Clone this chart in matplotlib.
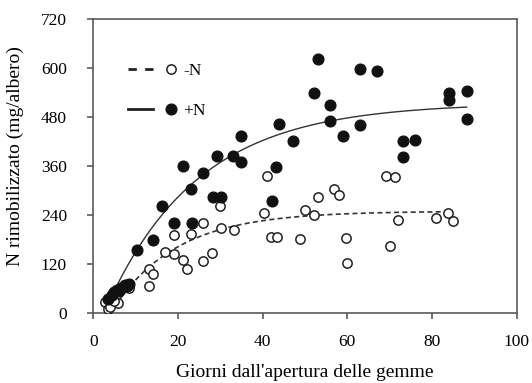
import numpy as np
from matplotlib import pyplot as plt
from matplotlib.lines import Line2D
from matplotlib.legend_handler import HandlerTuple

plt.rcParams['font.family'] = ['Liberation Serif', 'DejaVu Serif']

# +N (filled circles)
giorni_pn = [3.5, 4.5, 5, 5.5, 6, 6.5, 7, 7.5, 8, 8.5,
             10.3, 14.1, 16.2, 19.1, 21.1, 23.0, 23.2, 26.0, 28.2, 29.1,
             30.2, 33.1, 35.0, 35.0, 42.1, 43.2, 43.9, 47.1, 52.1, 53.1,
             55.9, 55.9, 59.0, 63.0, 63.0, 66.9, 73.1, 73.1, 76.0, 84.0,
             84.0, 88.2, 88.2]
n_pn = [35, 45, 52, 58, 55, 62, 65, 70, 68, 72,
        155, 180, 263, 222, 361, 304, 222, 344, 286, 384,
        286, 385, 371, 434, 276, 358, 464, 422, 540, 622,
        510, 472, 434, 598, 461, 594, 423, 382, 424, 539,
        522, 545, 475]

# -N (open circles)
giorni_mn = [2.8, 3.5, 3.9, 5.8, 5.0, 8.5,
             13.1, 13.1, 14.2, 16.9, 19.1, 19.1, 21.2, 22.2, 23.0, 26.0,
             26.0, 28.0, 30.0, 30.2, 33.2, 40.2, 41.1, 42.0, 43.3, 48.8,
             50.0, 52.2, 53.1, 56.9, 58.1, 59.8, 60.0, 69.1, 70.1, 71.3,
             72.0, 80.9, 83.8, 85.0]
n_mn = [28, 10, 16, 24, 30, 61,
        108, 66, 97, 151, 192, 144, 131, 108, 195, 222,
        128, 147, 263, 210, 204, 245, 336, 188, 186, 181,
        253, 240, 286, 304, 290, 184, 122, 336, 165, 335,
        228, 234, 246, 227]

# fitted curves y = a * (1 - exp(-b * (x - x0)))
fit_pn = (515, 0.046, 2.5)
fit_mn = (250, 0.066, 4.0)


def curva(x, a, b, x0):
	return a * (1 - np.exp(-b * (x - x0)))


fig = plt.figure(figsize=(5.32, 3.83), dpi=100)
ax = fig.add_axes([0.1754, 0.182, 0.7958, 0.7676])

xx = np.linspace(3, 88.2, 200)
ax.plot(xx, curva(xx, *fit_pn), color='#333333', lw=1.0, zorder=2)
xm = np.linspace(3, 85, 200)
ax.plot(xm, curva(xm, *fit_mn), color='#333333', lw=1.2, ls=(0, (3, 2)), zorder=2)

ax.plot(giorni_mn, n_mn, 'o', ms=6.7, mfc='white', mec='#222222', mew=1.1, zorder=3)
ax.plot(giorni_pn, n_pn, 'o', ms=7.7, mfc='#111111', mec='#111111', zorder=4)

ax.set_xlim(0, 100)
ax.set_ylim(0, 720)
ax.set_xticks(np.arange(0, 101, 20))
ax.set_yticks(np.arange(0, 721, 120))
for s in ax.spines.values():
	s.set_color('#5a5a5a')
	s.set_linewidth(1.2)
ax.tick_params(direction='out', length=4, width=1.2, color='#5a5a5a',
               labelsize=12.5)
ax.tick_params(axis='x', pad=11)
ax.tick_params(axis='y', pad=15)
ax.set_xlabel("Giorni dall'apertura delle gemme", fontsize=14, labelpad=10)
ax.set_ylabel('N rimobilizzato (mg/albero)', fontsize=14, labelpad=12, y=0.535)

h_mn = (Line2D([], [], color='#222222', lw=2, ls=(0, (3, 3))),
        Line2D([], [], ls='none', marker='o', ms=6.7, mfc='white', mec='#222222', mew=1.1))
h_pn = (Line2D([], [], color='#222222', lw=2),
        Line2D([], [], ls='none', marker='o', ms=7.7, mfc='#111111', mec='#111111'))
ax.legend([h_mn, h_pn], ['-N', '+N'], handler_map={tuple: HandlerTuple(ndivide=None, pad=0.3)},
          loc='upper left', bbox_to_anchor=(0.045, 0.905), frameon=False,
          fontsize=12.5, handlelength=3.2, handletextpad=0.0, labelspacing=1.35)

fig.savefig('out.png', dpi=100)
